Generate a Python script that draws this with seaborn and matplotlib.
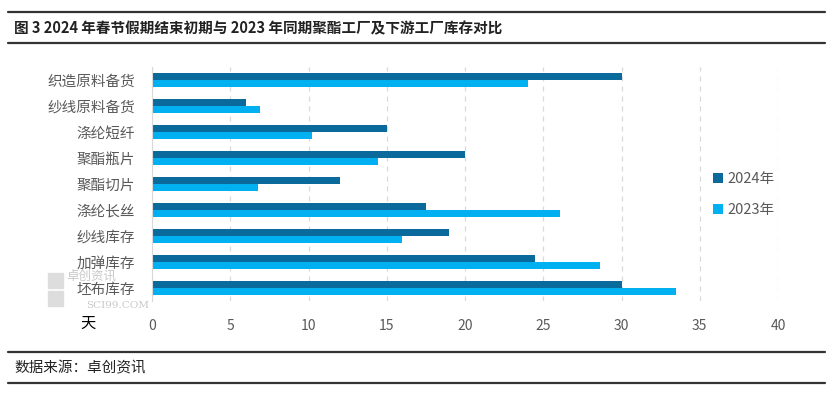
import matplotlib
matplotlib.use("Agg")
import matplotlib.pyplot as plt
import seaborn as sns
import pandas as pd

categories = ["织造原料备货", "纱线原料备货", "涤纶短纤", "聚酯瓶片", "聚酯切片",
              "涤纶长丝", "纱线库存", "加弹库存", "坯布库存"]
values_2024 = [30, 6, 15, 20, 12, 17.5, 19, 24.5, 30]
values_2023 = [24, 6.9, 10.2, 14.45, 6.8, 26.1, 16, 28.6, 33.5]
series = ["2024年", "2023年"]
xticks = [0, 5, 10, 15, 20, 25, 30, 35, 40]

df = pd.DataFrame({
    "cat": categories * 2,
    "val": values_2024 + values_2023,
    "year": [series[0]] * len(categories) + [series[1]] * len(categories),
})

sns.set_theme(style="white")
plt.rcParams["font.family"] = ["Noto Sans CJK SC", "DejaVu Sans"]

fig = plt.figure(figsize=(8.33, 3.94), dpi=100)
ax = fig.add_axes([152 / 833, 1 - 301 / 394, (778 - 152) / 833, (301 - 67) / 394])

palette = {"2024年": "#0B6A9C", "2023年": "#00B0F0"}
sns.barplot(data=df, y="cat", x="val", hue="year", order=categories,
            hue_order=series, palette=palette, orient="h", width=0.56,
            gap=0, ax=ax, saturation=1, edgecolor="none", legend=True)

ax.set_xlim(0, 40)
ax.set_xticks(xticks)
ax.set_xticklabels([str(t) for t in xticks], color="#595959", fontsize=10)
ax.set_yticklabels(categories, color="#595959", fontsize=10.5)
ax.set_xlabel("")
ax.set_ylabel("")
ax.tick_params(axis="x", length=0, pad=13)
ax.tick_params(axis="y", length=0, pad=12)
for s in ["top", "right", "bottom"]:
    ax.spines[s].set_visible(False)
ax.spines["left"].set_color("#D9D9D9")
ax.spines["left"].set_linewidth(0.8)
ax.xaxis.grid(True, linestyle=(0, (4, 4)), color="#D9D9D9", linewidth=0.9)
ax.set_axisbelow(True)

leg = ax.legend(loc="center left", bbox_to_anchor=(0.875, 0.455), frameon=False,
                fontsize=10.5, handlelength=0.7, handleheight=0.7,
                handletextpad=0.3, labelspacing=1.2)
for t in leg.get_texts():
    t.set_color("#595959")

# unit label
fig.text(88 / 833, 1 - 323 / 394, "天", fontsize=11, color="#000000",
         ha="center", va="center")

# title and source with rules
fig.add_artist(plt.Line2D([8 / 833, 825 / 833], [1 - 12 / 394] * 2, color="#333333", lw=1.6))
fig.add_artist(plt.Line2D([8 / 833, 825 / 833], [1 - 43 / 394] * 2, color="#333333", lw=1.6))
fig.text(14 / 833, 1 - 28 / 394, "图 3 2024 年春节假期结束初期与 2023 年同期聚酯工厂及下游工厂库存对比",
         fontsize=10.5, fontweight="bold", color="#222222", ha="left", va="center")
fig.add_artist(plt.Line2D([8 / 833, 825 / 833], [1 - 352 / 394] * 2, color="#333333", lw=1.6))
fig.add_artist(plt.Line2D([8 / 833, 825 / 833], [1 - 383 / 394] * 2, color="#333333", lw=1.6))
fig.text(14 / 833, 1 - 368 / 394, "数据来源：卓创资讯", fontsize=10.5, color="#222222",
         ha="left", va="center")

# watermark (logo squares + faint text)
for (x0, y0) in [(48, 273), (56, 273), (48, 291), (56, 291)]:
    fig.add_artist(plt.Rectangle((x0 / 833, 1 - (y0 + 15) / 394), 7 / 833, 15 / 394,
                                 transform=fig.transFigure, color="#DDDDDD", zorder=0))
fig.text(66 / 833, 1 - 276 / 394, "卓创资讯", fontsize=9, color="#C8C8C8",
         ha="left", va="center", zorder=0)
fig.text(86 / 833, 1 - 305 / 394, "SCI99.COM", fontsize=7.5, color="#C8C8C8",
         ha="left", va="center", family="DejaVu Serif", zorder=0)

fig.savefig("out.png", dpi=100)
